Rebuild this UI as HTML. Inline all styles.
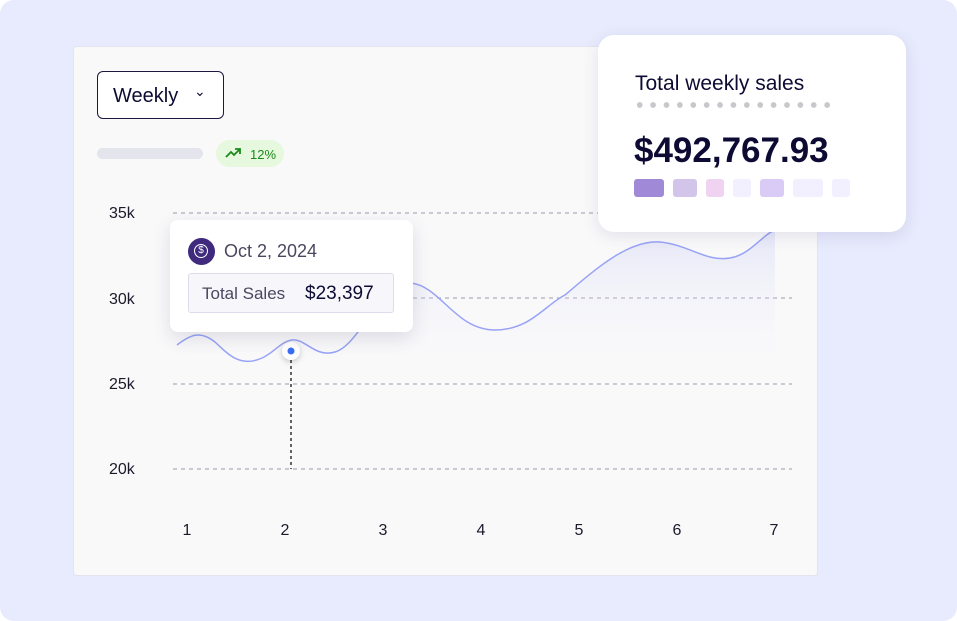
<!DOCTYPE html>
<html><head><style>
body{margin:0;width:957px;height:621px;overflow:hidden;font-family:"Liberation Sans",sans-serif;}
.bg{position:absolute;left:0;top:0;width:957px;height:621px;background:#e8eafd;border-radius:14px;}
.card{position:absolute;left:73px;top:46px;width:743px;height:528px;background:#f9f9fa;border:1px solid #e3e4ec;border-radius:4px;}
.sel{position:absolute;left:97px;top:71px;width:127px;height:48px;border:1.5px solid #1a1840;border-radius:6px;background:#fff;box-sizing:border-box;font-size:20px;color:#0d0b33;}
.sel span{position:absolute;left:15px;top:13px;}
.bar{position:absolute;left:97px;top:148px;width:106px;height:11px;border-radius:6px;background:#e3e4ec;}
.pill{position:absolute;left:216px;top:140px;width:68px;height:27px;border-radius:14px;background:#e6f8dd;color:#1a8a1a;font-size:13px;}
.ylab{position:absolute;left:109px;font-size:16px;color:#1a1a2a;}
.xlab{position:absolute;top:522px;font-size:16px;color:#1a1a2a;width:20px;text-align:center;}
.tip{position:absolute;left:170px;top:220px;width:243px;height:112px;background:#fff;border-radius:8px;box-shadow:0 6px 18px rgba(60,60,100,.15);}
.box{position:absolute;left:18px;top:53px;width:206px;height:40px;border:1px solid #dcdcea;background:#f7f7fb;border-radius:3px;box-sizing:border-box;}
.sum{position:absolute;left:598px;top:35px;width:308px;height:197px;background:#fff;border-radius:16px;box-shadow:0 4px 16px rgba(60,60,120,.12);}
.sq{position:absolute;top:144px;height:18px;border-radius:3px;}
</style></head><body>
<div class="bg"></div>
<div class="card"></div>
<svg style="position:absolute;left:0;top:0" width="957" height="621">
<defs><linearGradient id="g" x1="0" y1="0" x2="0" y2="1"><stop offset="0" stop-color="#c9ccf5" stop-opacity=".4"/><stop offset=".6" stop-color="#f9f9fa" stop-opacity="0"/></linearGradient></defs>
<g stroke="#9a9aae" stroke-dasharray="4 4" stroke-width="1">
<line x1="173" y1="213" x2="792" y2="213"/><line x1="173" y1="298" x2="792" y2="298"/><line x1="173" y1="384" x2="792" y2="384"/><line x1="173" y1="469" x2="792" y2="469"/></g>
<path d="M177 345 C190 335,200 330,215 342 C228 354,240 368,262 358 C275 352,280 342,292 340 C305 338,315 358,335 352 C360 345,380 282,410 283 C440 285,455 330,495 330 C530 330,545 305,565 295 C600 265,630 240,660 242 C690 245,705 262,730 258 C750 255,762 235,775 230 L775 469 L177 469 Z" fill="url(#g)"/>
<path d="M177 345 C190 335,200 330,215 342 C228 354,240 368,262 358 C275 352,280 342,292 340 C305 338,315 358,335 352 C360 345,380 282,410 283 C440 285,455 330,495 330 C530 330,545 305,565 295 C600 265,630 240,660 242 C690 245,705 262,730 258 C750 255,762 235,775 230" fill="none" stroke="#98a3f5" stroke-width="1.5"/>
<line x1="291" y1="360" x2="291" y2="469" stroke="#333" stroke-dasharray="3 3" stroke-width="1.5"/>
<circle cx="291" cy="351" r="9" fill="#fff" style="filter:drop-shadow(0 2px 3px rgba(0,0,0,.2))"/>
<circle cx="291" cy="351" r="3.5" fill="#3b6cf5"/>
</svg>
<div class="sel"><span>Weekly</span><span style="left:96px;top:11px;font-size:14px">&#8964;</span></div>
<div class="bar"></div>
<div class="pill"><svg style="position:absolute;left:9px;top:7px" width="16" height="12"><path d="M1 10 L6 5 L9 8 L15 2 M10 2 L15 2 L15 7" fill="none" stroke="#1a8a1a" stroke-width="1.8"/></svg><span style="position:absolute;left:34px;top:7px">12%</span></div>
<div class="ylab" style="top:205px">35k</div><div class="ylab" style="top:291px">30k</div><div class="ylab" style="top:376px">25k</div><div class="ylab" style="top:461px">20k</div>
<div class="xlab" style="left:177px">1</div><div class="xlab" style="left:275px">2</div><div class="xlab" style="left:373px">3</div><div class="xlab" style="left:471px">4</div><div class="xlab" style="left:569px">5</div><div class="xlab" style="left:667px">6</div><div class="xlab" style="left:764px">7</div>
<div class="tip">
<div style="position:absolute;left:18px;top:18px;width:27px;height:27px;border-radius:50%;background:#3f2a7e"><div style="position:absolute;left:6px;top:6px;width:12px;height:12px;border:1.5px solid #fff;border-radius:50%;color:#fff;font-size:10px;line-height:12px;text-align:center">$</div></div>
<div style="position:absolute;left:54px;top:21px;font-size:18px;color:#4a4760">Oct 2, 2024</div>
<div class="box"><span style="position:absolute;left:13px;top:10px;font-size:17px;color:#4a4760">Total Sales</span><span style="position:absolute;left:116px;top:9px;font-size:19px;color:#0d0b33">$23,397</span></div>
</div>
<div class="sum">
<div style="position:absolute;left:37px;top:37px;font-size:21px;color:#0d0b33">Total weekly sales</div>
<div style="position:absolute;left:35px;top:67px;width:200px;height:6px;background:radial-gradient(circle,#c8c8cc 2.7px,transparent 3px) 0 0/13.4px 6px repeat-x"></div>
<div style="position:absolute;left:36px;top:96px;font-size:35px;font-weight:bold;color:#0d0b33">$492,767.93</div>
<div class="sq" style="left:36px;width:30px;background:#a08ad8"></div>
<div class="sq" style="left:75px;width:24px;background:#d3c5ea"></div>
<div class="sq" style="left:108px;width:18px;background:#f0d3f0"></div>
<div class="sq" style="left:135px;width:18px;background:#f2effe"></div>
<div class="sq" style="left:162px;width:24px;background:#d9cbf5"></div>
<div class="sq" style="left:195px;width:30px;background:#f2effe"></div>
<div class="sq" style="left:234px;width:18px;background:#f2effe"></div>
</div>
</body></html>
